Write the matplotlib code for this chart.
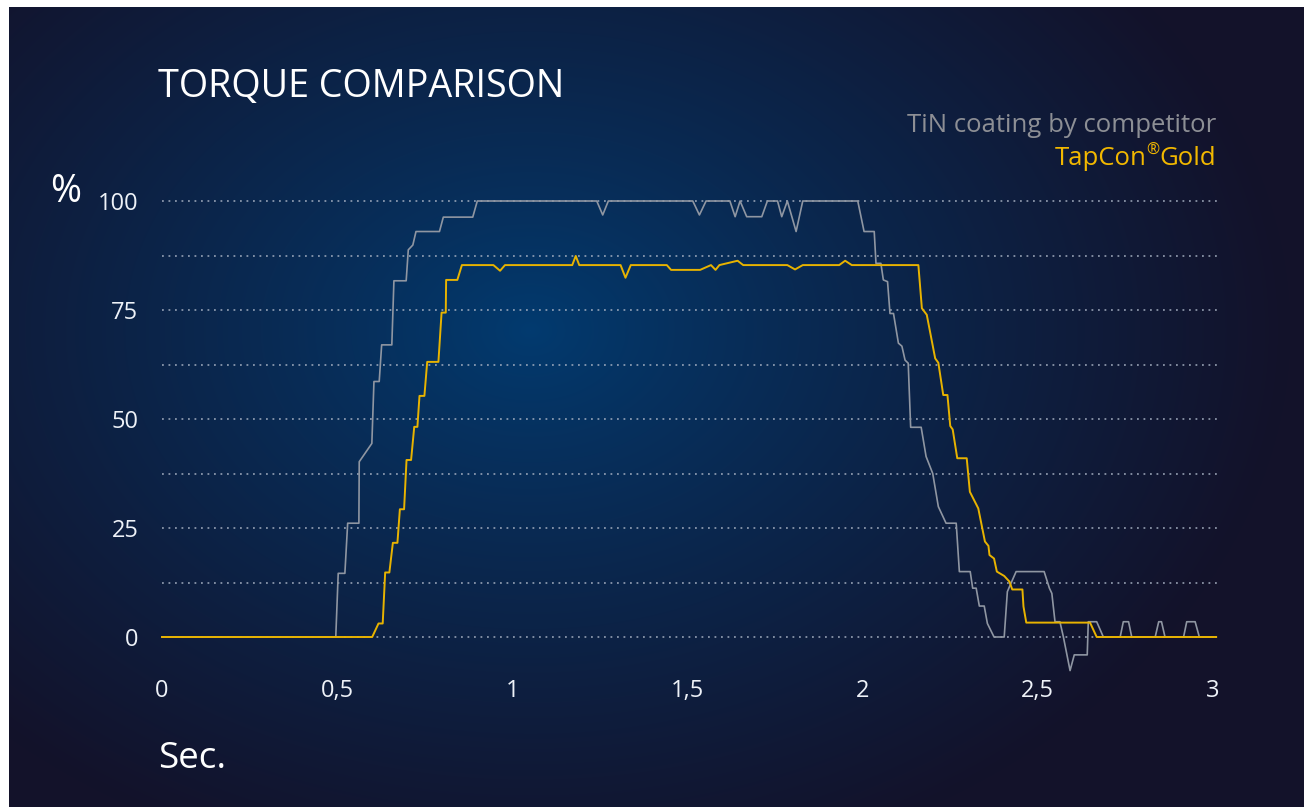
import numpy as np
import matplotlib
matplotlib.use("Agg")
import matplotlib.pyplot as plt

plt.rcParams["font.family"] = ["Open Sans", "DejaVu Sans"]

W, H = 1304, 807

# torque curves, time in seconds and torque in percent
tin_time = [0, 0.496, 0.503, 0.522, 0.530, 0.562, 0.563, 0.599, 0.605, 0.620,
            0.627, 0.656, 0.662, 0.697, 0.703, 0.716, 0.725, 0.792, 0.803, 0.887,
            0.900, 1.241, 1.258, 1.274, 1.515, 1.534, 1.553, 1.621, 1.636, 1.650,
            1.669, 1.712, 1.728, 1.757, 1.769, 1.785, 1.810, 1.829, 1.986, 2.004,
            2.033, 2.038, 2.052, 2.059, 2.071, 2.078, 2.088, 2.102, 2.112, 2.121,
            2.130, 2.137, 2.167, 2.181, 2.200, 2.216, 2.238, 2.267, 2.276, 2.307,
            2.314, 2.324, 2.333, 2.347, 2.356, 2.375, 2.404, 2.413, 2.421, 2.438,
            2.518, 2.533, 2.540, 2.549, 2.563, 2.573, 2.592, 2.604, 2.641, 2.644,
            2.668, 2.687, 2.735, 2.744, 2.759, 2.768, 2.835, 2.845, 2.853, 2.863,
            2.916, 2.925, 2.949, 2.961, 3.0]
tin_torque = [0, 0, 14.6, 14.6, 26.1, 26.1, 40.2, 44.4, 58.6, 58.6,
              67.0, 67.0, 81.7, 81.7, 88.8, 89.9, 93.0, 93.0, 96.3, 96.3,
              100, 100, 96.8, 100, 100, 96.8, 100, 100, 96.4, 100,
              96.4, 96.4, 100, 100, 96.4, 100, 93.0, 100, 100, 93.0,
              93.0, 85.7, 85.7, 81.9, 81.5, 74.2, 74.2, 67.4, 66.7, 63.5,
              62.8, 48.1, 48.1, 41.4, 37.5, 29.9, 26.1, 26.1, 15.0, 15.0,
              11.2, 11.2, 7.1, 7.1, 3.1, 0, 0, 10.4, 11.9, 15.0,
              15.0, 11.2, 10.0, 3.5, 3.5, 0, -7.7, -4.1, -4.1, 3.5,
              3.5, 0, 0, 3.5, 3.5, 0, 0, 3.5, 3.5, 0,
              0, 3.5, 3.5, 0, 0]

gold_time = [0, 0.600, 0.618, 0.630, 0.637, 0.649, 0.659, 0.672, 0.679, 0.691,
             0.698, 0.711, 0.720, 0.729, 0.735, 0.749, 0.757, 0.789, 0.798, 0.810,
             0.811, 0.843, 0.856, 0.946, 0.965, 0.979, 1.171, 1.181, 1.191, 1.309,
             1.323, 1.338, 1.441, 1.453, 1.536, 1.567, 1.580, 1.591, 1.643, 1.659,
             1.785, 1.807, 1.829, 1.933, 1.950, 1.969, 2.159, 2.169, 2.183, 2.207,
             2.216, 2.230, 2.242, 2.250, 2.257, 2.270, 2.297, 2.306, 2.330, 2.349,
             2.359, 2.362, 2.375, 2.383, 2.404, 2.419, 2.427, 2.456, 2.459, 2.467,
             2.649, 2.668, 3.009]
gold_torque = [0, 0, 3.1, 3.1, 14.8, 14.8, 21.6, 21.6, 29.3, 29.3,
               40.6, 40.6, 48.2, 48.2, 55.3, 55.3, 63.1, 63.1, 74.4, 74.4,
               81.9, 81.9, 85.3, 85.3, 84.0, 85.3, 85.3, 87.4, 85.3, 85.3,
               82.4, 85.3, 85.3, 84.2, 84.2, 85.3, 84.2, 85.3, 86.3, 85.3,
               85.3, 84.3, 85.3, 85.3, 86.3, 85.3, 85.3, 75.4, 73.9, 63.9,
               62.9, 55.5, 55.5, 48.4, 47.6, 41.0, 41.0, 33.3, 29.5, 21.9,
               20.9, 18.8, 18.0, 15.0, 14.0, 12.7, 10.9, 10.9, 7.0, 3.3,
               3.3, 0, 0]

x_ticks = [0, 0.5, 1, 1.5, 2, 2.5, 3]
x_labels = ["0", "0,5", "1", "1,5", "2", "2,5", "3"]
y_ticks = [0, 25, 50, 75, 100]
grid_levels = np.arange(0, 101, 12.5)

fig = plt.figure(figsize=(W / 100, H / 100), dpi=100, facecolor="white")

# radial blue glow behind everything
bg = fig.add_axes([9 / W, 0, 1 - 9 / W, 1 - 7 / H])
bg.set_axis_off()
yy, xx = np.mgrid[7:H, 9:W]
r = np.sqrt(((xx - 530) / 760.0) ** 2 + ((yy - 330) / 560.0) ** 2)
r = np.clip(r, 0, 1) ** 0.85
center = np.array([0x02, 0x3b, 0x70]) / 255
edge = np.array([0x13, 0x12, 0x2a]) / 255
img = center[None, None, :] * (1 - r[..., None]) + edge[None, None, :] * r[..., None]
bg.imshow(img, aspect="auto", interpolation="bilinear")

ax = fig.add_axes([162 / W, 1 - 637 / H, (1213 - 162) / W, (637 - 201) / H])
ax.set_facecolor("none")
ax.set_xlim(0, 3)
ax.set_ylim(0, 100)
for s in ax.spines.values():
    s.set_visible(False)

ax.hlines(grid_levels, 0, 3.01, colors="#a9b3c4", linestyles=(0, (1, 2.6)),
          linewidth=1.3, alpha=0.8, clip_on=False)

ax.plot(tin_time, tin_torque, color="#8f96a2", linewidth=1.2, clip_on=False)
ax.plot(gold_time, gold_torque, color="#e8b300", linewidth=1.4, clip_on=False)

ax.set_xticks(x_ticks)
ax.set_xticklabels(x_labels)
ax.set_yticks(y_ticks)
ax.tick_params(length=0, colors="#eef2f8", labelsize=17)
ax.tick_params(axis="y", pad=17)
ax.tick_params(axis="x", pad=30)

fig.text(158 / W, 1 - 97 / H, "TORQUE COMPARISON", color="white",
         fontsize=27.2, va="baseline", ha="left")
fig.text(158 / W, 1 - 768 / H, "Sec.", color="white",
         fontsize=26.5, va="baseline", ha="left")
fig.text(50 / W, 1 - 202 / H, "%", color="white",
         fontsize=27, va="baseline", ha="left")

# legend lines, right aligned; the registered sign is set small and raised
legend_size = 18.5
fig.text(1216 / W, 1 - 132 / H, "TiN coating by competitor", color="#8d8f95",
         fontsize=legend_size, va="baseline", ha="right")
gold_color = "#f2b800"
t_gold = fig.text(1216 / W, 1 - 165 / H, "Gold", color=gold_color,
                  fontsize=legend_size, va="baseline", ha="right")
fig.canvas.draw()
renderer = fig.canvas.get_renderer()
x0 = t_gold.get_window_extent(renderer).x0
t_reg = fig.text(x0 / W, 1 - 155 / H, "\u00ae", color=gold_color,
                 fontsize=legend_size * 0.62, va="baseline", ha="right")
x1 = t_reg.get_window_extent(renderer).x0
fig.text(x1 / W, 1 - 165 / H, "TapCon", color=gold_color,
         fontsize=legend_size, va="baseline", ha="right")

fig.savefig("out.png", dpi=100, facecolor=fig.get_facecolor())
